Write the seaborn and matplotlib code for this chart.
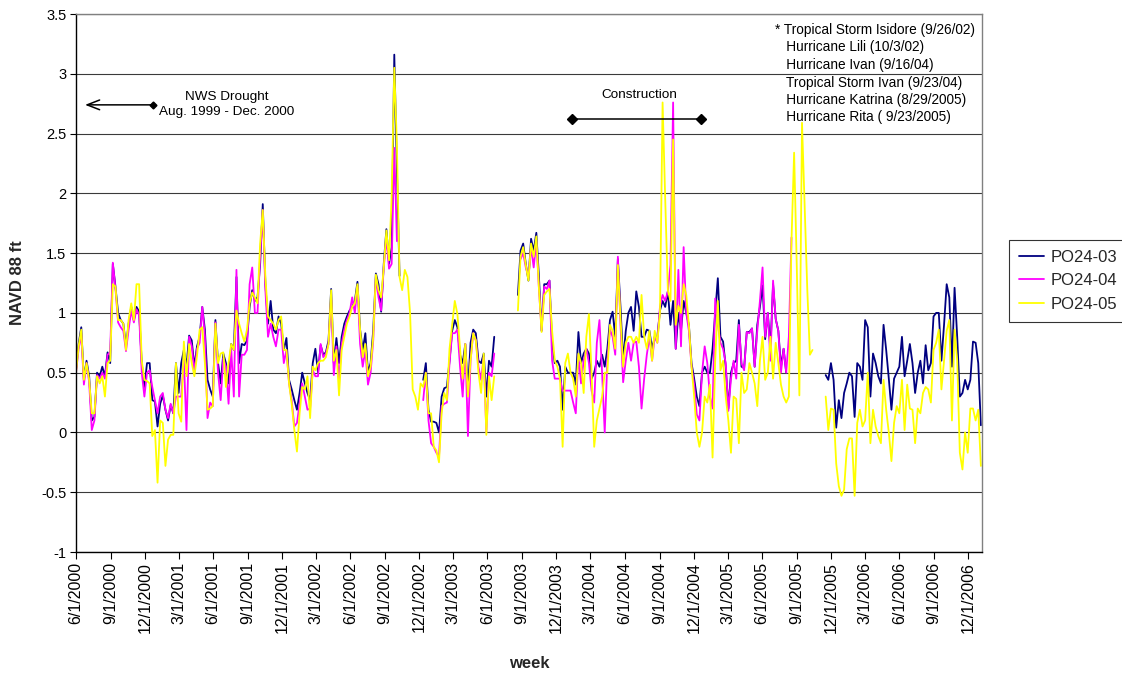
import matplotlib
matplotlib.use("Agg")
import matplotlib.pyplot as plt
import matplotlib.dates as mdates
from matplotlib.lines import Line2D
import pandas as pd
import seaborn as sns

N = None  # no reading that week

start_date = "2000-06-01"   # first weekly reading

# PO24-03 weekly stage (NAVD 88 ft)
po24_03 = [
    0.52, 0.74, 0.88, 0.44, 0.60, 0.47, 0.10, 0.13, 0.50, 0.47,
    0.55, 0.47, 0.67, 0.58, 1.41, 1.22, 1.00, 0.94, 0.91, 0.72,
    0.91, 1.05, 0.94, 1.05, 1.01, 0.58, 0.38, 0.58, 0.58, 0.27,
    0.26, 0.05, 0.24, 0.31, 0.19, 0.10, 0.23, 0.16, 0.58, 0.33,
    0.58, 0.69, 0.55, 0.81, 0.77, 0.55, 0.72, 0.80, 1.05, 0.86,
    0.44, 0.36, 0.30, 0.94, 0.58, 0.41, 0.66, 0.58, 0.41, 0.74,
    0.69, 1.30, 0.58, 0.74, 0.73, 0.77, 1.05, 1.19, 1.10, 1.13,
    1.41, 1.91, 1.24, 0.91, 1.10, 0.86, 0.83, 0.97, 0.91, 0.69,
    0.79, 0.44, 0.36, 0.27, 0.19, 0.33, 0.50, 0.41, 0.33, 0.27,
    0.58, 0.70, 0.50, 0.73, 0.65, 0.67, 0.77, 1.20, 0.58, 0.79,
    0.58, 0.80, 0.91, 0.97, 1.02, 1.05, 1.10, 1.26, 0.86, 0.69,
    0.83, 0.50, 0.58, 0.86, 1.33, 1.24, 1.01, 1.41, 1.70, 1.41,
    1.55, 3.16, 2.20, 1.31, N, N, N, N, N, N,
    N, N, 0.44, 0.58, 0.19, 0.09, 0.09, 0.08, 0.00, 0.30,
    0.37, 0.38, 0.60, 0.85, 0.94, 0.88, 0.65, 0.58, 0.74, 0.35,
    0.75, 0.86, 0.83, 0.60, 0.58, 0.66, 0.30, 0.60, 0.55, 0.80,
    N, N, N, N, N, N, N, N, 1.15, 1.52,
    1.58, 1.41, 1.27, 1.62, 1.52, 1.67, 1.30, 0.85, 1.24, 1.24,
    1.27, 0.75, 0.58, 0.60, 0.55, 0.19, 0.55, 0.50, 0.50, 0.50,
    0.40, 0.84, 0.58, 0.66, 0.70, 0.66, 0.45, 0.50, 0.60, 0.55,
    0.65, 0.55, 0.70, 0.94, 1.01, 0.80, 1.45, 1.05, 0.60, 0.85,
    1.00, 1.05, 0.85, 1.18, 1.05, 0.80, 0.80, 0.86, 0.85, 0.70,
    0.80, 0.80, 1.02, 1.10, 1.05, 1.18, 0.90, 1.10, 0.70, 1.00,
    0.85, 1.10, 1.00, 0.90, 0.58, 0.45, 0.30, 0.22, 0.50, 0.55,
    0.50, 0.50, 0.70, 1.00, 1.29, 0.80, 0.76, 0.55, 0.20, 0.50,
    0.58, 0.60, 0.94, 0.55, 0.54, 0.84, 0.84, 0.87, 0.55, 0.90,
    1.05, 1.23, 0.78, 1.00, 0.70, 1.24, 0.95, 0.85, 0.55, 0.70,
    0.50, N, N, N, N, N, N, N, N, N,
    N, N, N, N, N, 0.48, 0.44, 0.58, 0.44, 0.04,
    0.27, 0.12, 0.33, 0.41, 0.50, 0.47, 0.13, 0.58, 0.55, 0.44,
    0.94, 0.88, 0.30, 0.66, 0.58, 0.47, 0.41, 0.90, 0.69, 0.45,
    0.19, 0.45, 0.50, 0.55, 0.80, 0.47, 0.60, 0.74, 0.58, 0.33,
    0.50, 0.60, 0.41, 0.73, 0.52, 0.58, 0.97, 1.00, 1.00, 0.60,
    0.90, 1.24, 1.13, 0.55, 1.21, 0.80, 0.30, 0.33, 0.44, 0.36,
    0.44, 0.76, 0.75, 0.58, 0.06,
]

# PO24-04 weekly stage (NAVD 88 ft)
po24_04 = [
    0.50, 0.70, 0.82, 0.40, 0.58, 0.42, 0.02, 0.10, 0.48, 0.45,
    0.50, 0.45, 0.65, 0.67, 1.42, 1.20, 0.92, 0.88, 0.85, 0.68,
    0.86, 1.02, 0.92, 1.03, 0.98, 0.50, 0.30, 0.50, 0.52, 0.38,
    0.27, 0.16, 0.30, 0.33, 0.19, 0.12, 0.24, 0.16, 0.30, 0.30,
    0.30, 0.62, 0.02, 0.80, 0.72, 0.50, 0.70, 0.75, 1.05, 0.80,
    0.12, 0.25, 0.22, 0.92, 0.50, 0.27, 0.62, 0.55, 0.24, 0.70,
    0.30, 1.36, 0.30, 0.65, 0.65, 0.69, 1.24, 1.38, 1.00, 1.00,
    1.47, 1.86, 1.19, 0.80, 0.91, 0.80, 0.72, 0.86, 0.86, 0.58,
    0.69, 0.41, 0.27, 0.05, 0.08, 0.24, 0.41, 0.30, 0.19, 0.20,
    0.52, 0.47, 0.47, 0.74, 0.63, 0.66, 0.74, 1.13, 0.48, 0.72,
    0.44, 0.74, 0.86, 0.94, 1.00, 1.13, 1.00, 1.22, 0.74, 0.55,
    0.69, 0.40, 0.50, 0.77, 1.30, 1.13, 1.02, 1.38, 1.63, 1.37,
    1.41, 2.38, 1.60, N, N, N, N, N, N, N,
    N, N, 0.27, 0.50, 0.10, -0.09, -0.12, -0.17, -0.20, 0.22,
    0.24, 0.25, 0.58, 0.83, 0.83, 0.86, 0.55, 0.30, 0.74, -0.03,
    0.60, 0.83, 0.77, 0.55, 0.44, 0.63, 0.00, 0.50, 0.47, 0.66,
    N, N, N, N, N, N, N, N, N, 1.45,
    1.50, 1.38, 1.30, 1.55, 1.38, 1.60, 1.20, 0.85, 1.22, 1.20,
    1.27, 0.60, 0.45, 0.45, 0.45, 0.35, 0.35, 0.35, 0.35, 0.25,
    0.16, 0.65, 0.41, 0.60, 0.70, 0.58, 0.35, 0.25, 0.75, 0.94,
    0.50, 0.00, 0.60, 0.86, 0.80, 0.65, 1.47, 0.90, 0.42, 0.60,
    0.75, 0.60, 0.75, 0.76, 0.55, 0.20, 0.45, 0.65, 0.80, 0.60,
    0.80, 0.75, 1.05, 1.15, 1.10, 1.18, 1.40, 2.76, 0.70, 1.36,
    0.72, 1.55, 1.00, 0.85, 0.55, 0.40, 0.15, 0.10, 0.50, 0.72,
    0.58, 0.30, 0.20, 1.12, 0.90, 0.75, 0.70, 0.58, 0.18, 0.45,
    0.60, 0.45, 0.90, 0.58, 0.52, 0.84, 0.83, 0.87, 0.55, 0.85,
    1.10, 1.38, 0.80, 1.00, 0.60, 1.27, 0.95, 0.85, 0.50, 0.70,
    0.50, 0.80, 1.63, N, N, N, N, N, N, N,
    N, N, N, N, N, N, N, N, N, N,
    N, N, N, N, N, N, N, N, N, N,
    N, N, N, N, N, N, N, N, N, N,
    N, N, N, N, N, N, N, N, N, N,
    N, N, N, N, N, N, N, N, N, N,
    N, N, N, N, N, N, N, N, N, N,
    N, N, N, N, N,
]

# PO24-05 weekly stage (NAVD 88 ft)
po24_05 = [
    0.50, 0.72, 0.86, 0.44, 0.58, 0.44, 0.16, 0.16, 0.47, 0.41,
    0.47, 0.30, 0.58, 0.60, 1.24, 1.22, 0.94, 0.94, 0.91, 0.69,
    0.94, 1.08, 0.94, 1.24, 1.24, 0.60, 0.44, 0.43, 0.41, -0.03,
    0.02, -0.42, 0.10, 0.08, -0.28, -0.06, -0.02, -0.02, 0.58, 0.16,
    0.09, 0.76, 0.47, 0.74, 0.58, 0.47, 0.64, 0.86, 0.88, 0.58,
    0.19, 0.20, 0.22, 0.91, 0.58, 0.66, 0.67, 0.38, 0.58, 0.74,
    0.69, 1.02, 0.91, 0.83, 0.76, 0.86, 1.08, 1.17, 1.13, 1.08,
    1.58, 1.86, 1.30, 0.97, 0.94, 0.91, 0.86, 0.94, 0.97, 0.69,
    0.69, 0.41, 0.24, 0.02, -0.16, 0.16, 0.38, 0.36, 0.47, 0.12,
    0.55, 0.52, 0.58, 0.60, 0.60, 0.63, 0.74, 1.19, 0.60, 0.69,
    0.31, 0.69, 0.80, 0.91, 0.97, 1.05, 1.08, 1.24, 0.86, 0.63,
    0.74, 0.47, 0.55, 0.80, 1.32, 1.19, 1.13, 1.38, 1.69, 1.44,
    1.97, 3.05, 2.40, 1.30, 1.19, 1.36, 1.30, 1.00, 0.36, 0.30,
    0.19, 0.41, 0.38, 0.50, 0.16, 0.16, -0.12, -0.15, -0.25, 0.16,
    0.33, 0.27, 0.70, 0.90, 1.10, 0.99, 0.70, 0.45, 0.74, 0.30,
    0.60, 0.83, 0.77, 0.50, 0.33, 0.66, -0.02, 0.47, 0.27, 0.47,
    N, N, N, N, N, N, N, N, 1.02, 1.47,
    1.55, 1.40, 1.27, 1.58, 1.47, 1.64, 1.20, 0.84, 1.15, 1.18,
    1.20, 0.85, 0.60, 0.55, 0.45, -0.12, 0.58, 0.66, 0.50, 0.45,
    0.30, 0.66, 0.58, 0.33, 0.80, 0.99, 0.50, -0.12, 0.10, 0.20,
    0.30, 0.50, 0.50, 0.90, 0.85, 0.70, 1.40, 0.95, 0.55, 0.75,
    0.80, 0.80, 0.75, 0.80, 0.75, 1.15, 0.80, 0.70, 0.85, 0.60,
    0.85, 0.75, 1.00, 2.76, 1.95, 1.19, 1.10, 2.45, 0.90, 1.06,
    1.00, 1.24, 1.15, 0.90, 0.55, 0.30, 0.00, -0.12, 0.00, 0.30,
    0.25, 0.40, -0.21, 0.60, 1.10, 0.52, 0.60, 0.30, 0.10, -0.17,
    0.30, 0.28, -0.09, 0.50, 0.33, 0.36, 0.58, 0.50, 0.41, 0.22,
    0.60, 0.80, 0.44, 0.50, 0.80, 0.45, 0.75, 0.58, 0.40, 0.30,
    0.25, 0.30, 1.60, 2.34, 1.40, 0.31, 2.59, 1.90, 1.20, 0.65,
    0.69, N, N, N, N, 0.30, 0.02, 0.20, 0.19, -0.26,
    -0.45, -0.53, -0.48, -0.14, -0.05, -0.05, -0.53, 0.08, 0.19, 0.05,
    0.10, 0.50, -0.09, 0.19, 0.05, -0.03, -0.09, 0.44, 0.19, 0.00,
    -0.24, 0.08, 0.22, 0.16, 0.44, 0.02, 0.40, 0.20, 0.19, -0.09,
    0.20, 0.16, 0.33, 0.38, 0.36, 0.25, 0.69, 0.75, 0.86, 0.36,
    0.60, 0.85, 0.94, 0.10, 0.86, 0.60, -0.17, -0.31, 0.00, -0.17,
    0.20, 0.20, 0.10, 0.19, -0.28,
]

series_names = ["PO24-03", "PO24-04", "PO24-05"]
series_colors = ["#000080", "#FF00FF", "#FFFF00"]

tick_dates = pd.date_range("2000-06-01", "2006-12-01", freq="3MS")
tick_labels = [f"{d.month}/{d.day}/{d.year}" for d in tick_dates]
y_ticks = [-1, -0.5, 0, 0.5, 1, 1.5, 2, 2.5, 3, 3.5]
y_tick_labels = [f"{v:g}" for v in y_ticks]

hurricane_notes = [
    "* Tropical Storm Isidore (9/26/02)",
    "   Hurricane Lili (10/3/02)",
    "   Hurricane Ivan (9/16/04)",
    "   Tropical Storm Ivan (9/23/04)",
    "   Hurricane Katrina (8/29/2005)",
    "   Hurricane Rita ( 9/23/2005)",
]

# ---------------------------------------------------------------- data frame
lengths = {len(po24_03), len(po24_04), len(po24_05)}
assert len(lengths) == 1, lengths
weeks = pd.date_range(start_date, periods=len(po24_03), freq="7D")

rows = []
for name, vals in zip(series_names, [po24_03, po24_04, po24_05]):
    seg, gap = 0, True
    for d, v in zip(weeks, vals):
        if v is None:
            gap = True
            continue
        if gap:
            seg += 1
            gap = False
        rows.append({"date": d, "value": v, "series": name,
                     "segment": f"{name}-{seg}"})
df = pd.DataFrame(rows)

# ---------------------------------------------------------------- style
sns.set_theme(style="white")
plt.rcParams["font.family"] = ["Liberation Sans", "DejaVu Sans"]
plt.rcParams["axes.unicode_minus"] = False

W, H = 1122, 677
fig = plt.figure(figsize=(W / 100, H / 100), dpi=100)
L, R, T, B = 76, 982, 14, 552
ax = fig.add_axes([L / W, 1 - B / H, (R - L) / W, (B - T) / H])

sns.lineplot(data=df, x="date", y="value", hue="series", units="segment",
             estimator=None, hue_order=series_names,
             palette=dict(zip(series_names, series_colors)),
             linewidth=1.3, legend=False, sort=False, ax=ax)

ax.set_xlim(pd.Timestamp("2000-06-01"), pd.Timestamp("2007-01-07"))
ax.set_ylim(-1, 3.5)
ax.set_xticks(mdates.date2num(tick_dates))
ax.set_xticklabels(tick_labels, rotation=90, fontsize=11.5)
ax.set_yticks(y_ticks)
ax.set_yticklabels(y_tick_labels, fontsize=10.5)
ax.set_xlabel("")
ax.set_ylabel("")
ax.tick_params(axis="both", direction="out", length=4, width=0.8,
               color="black", labelcolor="black", pad=3)
ax.tick_params(axis="x", length=5, pad=2)
ax.tick_params(left=True, bottom=True)

ax.yaxis.grid(True, color="#3a3a3a", linewidth=0.8)
ax.xaxis.grid(False)
ax.set_axisbelow(True)
for s in ["left", "bottom"]:
    ax.spines[s].set_color("black")
    ax.spines[s].set_linewidth(1.0)
for s in ["top", "right"]:
    ax.spines[s].set_color("#808080")
    ax.spines[s].set_linewidth(1.0)

# ---------------------------------------------------------------- annotations
drought_start = pd.Timestamp("2000-06-25")
drought_end = pd.Timestamp("2000-12-23")
drought_level = 2.74
ax.annotate("", xy=(mdates.date2num(drought_start), drought_level),
            xytext=(mdates.date2num(drought_end), drought_level),
            arrowprops=dict(arrowstyle="->,head_length=0.9,head_width=0.35",
                            lw=1.1, color="black", shrinkA=0, shrinkB=0,
                            mutation_scale=10))
ax.plot([mdates.date2num(drought_end)], [drought_level], marker="D",
        ms=3.5, color="black", zorder=5)
ax.text(mdates.date2num(pd.Timestamp("2001-07-08")), 2.745,
        "NWS Drought\nAug. 1999 - Dec. 2000", ha="center", va="center",
        fontsize=9.7, linespacing=1.35, color="black")

constr_start = pd.Timestamp("2004-01-13")
constr_end = pd.Timestamp("2004-12-21")
constr_level = 2.62
ax.plot(mdates.date2num([constr_start, constr_end]),
        [constr_level, constr_level], color="black", lw=1.1,
        marker="D", ms=5, zorder=5)
ax.text(mdates.date2num(pd.Timestamp("2004-07-08")), 2.82, "Construction",
        ha="center", va="center", fontsize=9.7, color="black")

for i, note in enumerate(hurricane_notes):
    ypix = 30 + 17.5 * i
    ax.text((775 - L) / (R - L), (B - ypix) / (B - T), note,
            transform=ax.transAxes, ha="left", va="center",
            fontsize=9.8, color="black")

# ---------------------------------------------------------------- labels
fig.text(18 / W, 1 - 283 / H, "NAVD 88 ft", rotation=90, ha="center",
         va="center", fontsize=12, fontweight="bold")
fig.text(529 / W, 1 - 664 / H, "week", ha="center", va="center",
         fontsize=12, fontweight="bold")

handles = [Line2D([0], [0], color=c, lw=1.3) for c in series_colors]
leg = fig.legend(handles, series_names, loc="upper left",
                 bbox_to_anchor=(1009 / W, 1 - 240 / H), fontsize=12,
                 frameon=True, fancybox=False, shadow=False,
                 borderpad=0.6, labelspacing=0.5, handlelength=1.5,
                 handletextpad=0.4, borderaxespad=0)
leg.get_frame().set_edgecolor("black")
leg.get_frame().set_linewidth(0.8)

fig.savefig("out.png", dpi=100)
